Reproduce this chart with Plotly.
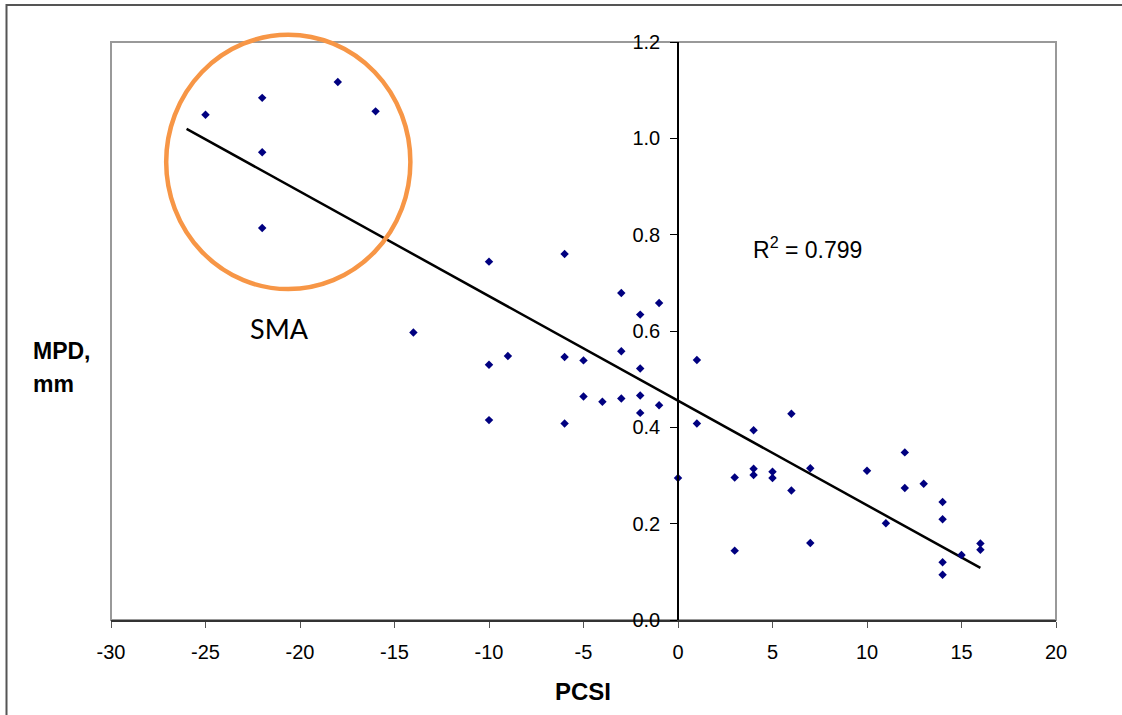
import numpy as np
import plotly.graph_objects as go

# ---------------- data ----------------
pcsi = [-25, -22, -18, -16, -22, -22,
        -14, -10, -10, -10, -9, -6, -6, -6, -5, -5, -4, -3, -3, -3, -2, -2, -2, -2, -1, -1, 1, 1,
        0, 3, 3, 4, 4, 4, 5, 5, 6, 6, 7, 7, 10, 11, 12, 12, 13, 14, 14, 14, 14, 15, 16, 16]
mpd = [1.049, 1.084, 1.117, 1.056, 0.971, 0.814,
       0.597, 0.744, 0.530, 0.415, 0.548, 0.760, 0.546, 0.408, 0.539, 0.464, 0.453, 0.679, 0.558,
       0.460, 0.634, 0.522, 0.466, 0.430, 0.658, 0.446, 0.540, 0.408,
       0.295, 0.296, 0.144, 0.394, 0.314, 0.301, 0.308, 0.295, 0.428, 0.269, 0.315, 0.160, 0.310,
       0.201, 0.348, 0.274, 0.283, 0.245, 0.209, 0.120, 0.094, 0.135, 0.159, 0.146]
trend_x_range = [-26, 16]
r2_text = "R<sup>2</sup> = 0.799"
sma_label = "SMA"
x_title = "PCSI"
y_title_lines = ["MPD,", "mm"]
x_range = [-30, 20]
y_range = [0, 1.2]
x_tick_values = [-30, -25, -20, -15, -10, -5, 0, 5, 10, 15, 20]
x_tick_labels = ["-30", "-25", "-20", "-15", "-10", "-5", "0", "5", "10", "15", "20"]
# SMA circle (data units): centre and radii
sma_circle_center = [-20.62, 0.951]
sma_circle_radius = [6.46, 0.264]

# ---------------- layout geometry ----------------
W, H = 1122, 715
L, R, T, B = 111, 66, 42, 95
PW, PH = W - L - R, H - T - B


def px_to_paper(px, py):
    return (px - L) / PW, (H - B - py) / PH


def data_to_paper(x, y):
    return ((x - x_range[0]) / (x_range[1] - x_range[0]),
            (y - y_range[0]) / (y_range[1] - y_range[0]))


# trendline from least squares fit
slope, intercept = np.polyfit(pcsi, mpd, 1)
tx = np.array(trend_x_range, dtype=float)
ty = slope * tx + intercept

fig = go.Figure()
fig.add_trace(go.Scatter(x=tx, y=ty, mode="lines",
                         line=dict(color="black", width=2.5), hoverinfo="skip",
                         showlegend=False))
fig.add_trace(go.Scatter(x=pcsi, y=mpd, mode="markers",
                         marker=dict(symbol="diamond", size=6.5, color="#000080",
                                     line=dict(width=0)),
                         showlegend=False))

axis_font = dict(family="Liberation Sans, Arial, sans-serif", size=20, color="black")

fig.update_layout(
    width=W, height=H, autosize=False,
    margin=dict(l=L, r=R, t=T, b=B, pad=0),
    paper_bgcolor="white", plot_bgcolor="white",
    xaxis=dict(range=x_range, tickmode="array", tickvals=x_tick_values,
               ticktext=x_tick_labels, showgrid=False, zeroline=False,
               showline=True, linecolor="#333333", linewidth=1.5,
               ticks="outside", ticklen=6, tickcolor="#555555", tickwidth=1,
               tickfont=axis_font, ticklabelstandoff=7),
    yaxis=dict(range=y_range, dtick=0.2, tick0=0, tickformat=".1f",
               showgrid=False, zeroline=False,
               anchor="free", position=data_to_paper(0, 0)[0],
               showline=True, linecolor="black", linewidth=1.5,
               ticks="outside", ticklen=7, tickcolor="black", tickwidth=1,
               tickfont=axis_font, ticklabelstandoff=6),
)

# plot area frame (grey)
fig.add_shape(type="rect", xref="paper", yref="paper", x0=0, y0=0, x1=1, y1=1,
              line=dict(color="#999999", width=2), layer="below")

# outer chart frame (cut at right / bottom edges)
fx0, fy0 = px_to_paper(6.5, 5)
fx1, fy1 = px_to_paper(W + 20, H + 20)
fig.add_shape(type="rect", xref="paper", yref="paper", x0=fx0, y0=fy1, x1=fx1, y1=fy0,
              line=dict(color="#555555", width=2), layer="below")

# SMA circle (paper coords so it is not clipped)
cx0, cy0 = data_to_paper(sma_circle_center[0] - sma_circle_radius[0],
                         sma_circle_center[1] - sma_circle_radius[1])
cx1, cy1 = data_to_paper(sma_circle_center[0] + sma_circle_radius[0],
                         sma_circle_center[1] + sma_circle_radius[1])
fig.add_shape(type="circle", xref="paper", yref="paper", x0=cx0, y0=cy0, x1=cx1, y1=cy1,
              line=dict(color="#F79646", width=4.5), layer="above")

# annotations
fig.add_annotation(x=3.85, y=0.772, xref="x", yref="y", text=r2_text, showarrow=False,
                   xanchor="left", yanchor="middle",
                   font=dict(family="Liberation Sans, Arial, sans-serif", size=23, color="black"))
fig.add_annotation(x=-21.06, y=0.606, xref="x", yref="y", text=sma_label, showarrow=False,
                   xanchor="center", yanchor="middle",
                   font=dict(family="Lato, Open Sans, sans-serif", size=27, color="black"))

px_, py_ = px_to_paper(583, 691)
fig.add_annotation(x=px_, y=py_, xref="paper", yref="paper", text="<b>%s</b>" % x_title,
                   showarrow=False, xanchor="center", yanchor="middle",
                   font=dict(family="Liberation Sans, Arial, sans-serif", size=24, color="black"))
for i, (line, ypix) in enumerate(zip(y_title_lines, [351, 384])):
    ax_, ay_ = px_to_paper(31, ypix)
    fig.add_annotation(x=ax_, y=ay_, xref="paper", yref="paper", text="<b>%s</b>" % line,
                       showarrow=False, xanchor="left", yanchor="middle",
                       font=dict(family="Liberation Sans, Arial, sans-serif", size=23,
                                 color="black"))

fig.write_html("out.html", config={"displayModeBar": False},
               post_script="document.body.style.margin='0';document.body.style.padding='0';"
                           "document.body.style.overflow='hidden';")
